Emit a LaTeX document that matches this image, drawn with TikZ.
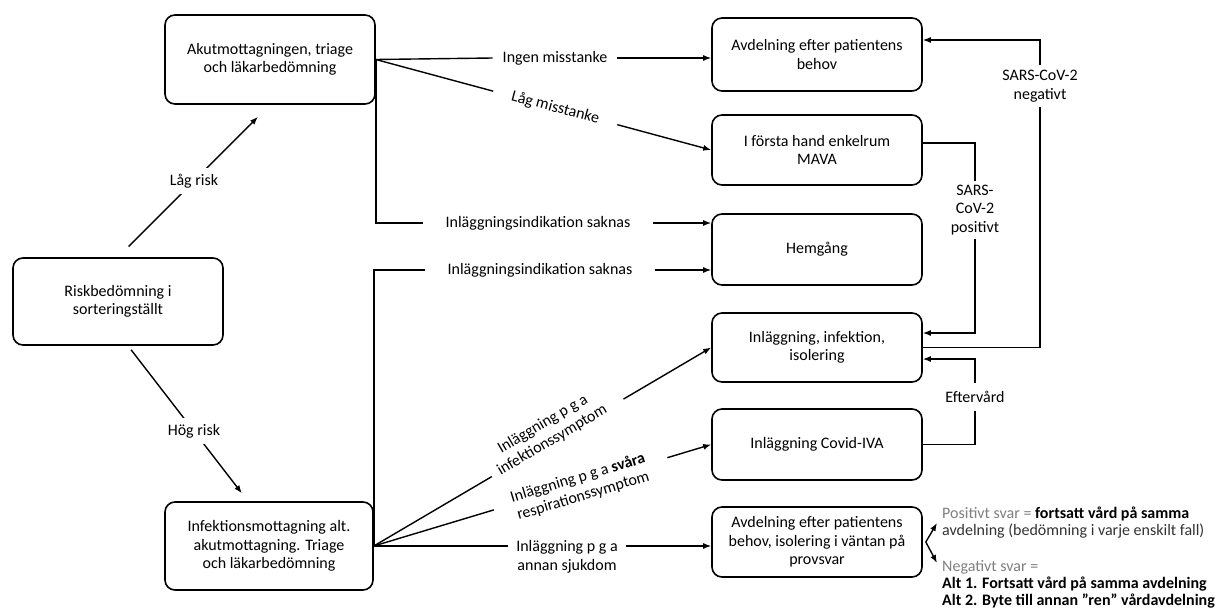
\documentclass[tikz,border=0pt]{standalone}
\usepackage{fontspec}
\setmainfont{Carlito}
\usetikzlibrary{arrows.meta,calc}
\begin{document}
\begin{tikzpicture}[x=1pt,y=-1pt,
  box/.style={draw, line width=1.6pt, rounded corners=10pt, align=center,
    font=\fontsize{16}{18.5}\selectfont, inner sep=2pt, minimum width=210pt},
  lab/.style={font=\fontsize{16}{18.5}\selectfont, align=center, inner sep=2pt},
  rtext/.style={font=\fontsize{16}{17}\selectfont, align=left, inner sep=0pt, anchor=west},
  con/.style={line width=1.4pt},
  arr/.style={line width=1.4pt, -{Latex[length=8pt,width=6pt]}},
]
\useasboundingbox (0,0) rectangle (1223,610);
\fill[white] (0,0) rectangle (1223,610);

% boxes
\node[box, minimum height=89pt] (A) at (270,59.5) {Akutmottagningen, triage\\och läkarbedömning};
\node[box, minimum height=87pt] (R) at (118,301.5) {Riskbedömning i\\sorteringställt};
\node[box, minimum width=208pt, minimum height=88pt] (I) at (269,546) {Infektionsmottagning alt.\\akutmottagning. Triage\\och läkarbedömning};
\node[box, minimum height=73pt] (B1) at (817,54.5) {Avdelning efter patientens\\behov};
\node[box, minimum height=70pt] (B2) at (817,150) {I första hand enkelrum\\MAVA};
\node[box, minimum height=71pt] (B3) at (817,249.5) {Hemgång};
\node[box, minimum height=69pt] (B4) at (817,347.5) {Inläggning, infektion,\\isolering};
\node[box, minimum height=71pt] (B5) at (817,444.5) {Inläggning Covid-IVA};
\node[box, minimum height=70pt] (B6) at (817,542) {Avdelning efter patientens\\behov, isolering i väntan på\\provsvar};

% risk arrows
\draw[arr, shorten <=15pt, shorten >=17pt] (R.north) -- (A.south)
  node[lab, fill=white, pos=0.5, inner sep=6pt] {Låg risk};
\draw[arr, shorten <=5pt, shorten >=10pt] ([xshift=10pt]R.south) -- ([xshift=-21pt]I.north)
  node[lab, fill=white, pos=0.55, inner sep=6pt] {Hög risk};

% from A
\node[lab, inner xsep=10pt] (l1) at (555,58) {Ingen misstanke};
\draw[con] (A.east) -- (l1.west);
\draw[arr] (l1.east) -- (B1.west |- l1.east);

\draw[con] (A.east) -- ($(A.east)!0.35!(B2.west)$);
\draw[arr] ($(A.east)!0.72!(B2.west)$) -- (B2.west);
\path (A.east) -- (B2.west) node[lab, sloped, pos=0.535] {Låg misstanke};

\node[lab, inner xsep=22pt] (l3) at (538,223) {Inläggningsindikation saknas};
\draw[con] (A.east) |- (l3.west);
\draw[arr] (l3.east) -- (B3.west |- l3.east);

% from I
\node[lab, inner xsep=22pt] (l4) at (540,270) {Inläggningsindikation saknas};
\draw[con] (I.east) |- (l4.west);
\draw[arr] (l4.east) -- (B3.west |- l4.east);

\draw[con] (I.east) -- ($(I.east)!0.35!(B4.west)$);
\draw[arr] ($(I.east)!0.74!(B4.west)$) -- (B4.west);
\path (I.east) -- (B4.west) node[lab, sloped, pos=0.53, yshift=10pt] {Inläggning p g a\\infektionssymptom};

\draw[con] (I.east) -- ($(I.east)!0.356!(B5.west)$);
\draw[arr] ($(I.east)!0.87!(B5.west)$) -- (B5.west);
\path (I.east) -- (B5.west) node[lab, sloped, pos=0.61, yshift=-3pt] {Inläggning p g a \textbf{svåra}\\respirationssymptom};

\node[lab, inner xsep=8pt] (l7) at (567,557) {Inläggning p g a\\annan sjukdom};
\draw[con] (I.east) -- (I.east -| l7.west);
\draw[arr] (I.east -| l7.east) -- (B6.west |- I.east);

% right side loops
\node[lab, inner ysep=5pt] (lN) at (1040,86) {SARS-CoV-2\\negativt};
\draw[con] (B4.east) -| (lN.south);
\draw[arr] (lN.north) |- ([yshift=14.5pt]B1.east);

\node[lab, inner ysep=4pt] (lP) at (975,210) {SARS-\\CoV-2\\positivt};
\draw[con] ([yshift=7pt]B2.east) -| (lP.north);
\draw[arr] (lP.south) |- ([yshift=14.5pt]B4.east);

\node[lab, inner ysep=8pt] (lE) at (975,397) {Eftervård};
\draw[con] (B5.east) -| (lE.south);
\draw[arr] (lE.north) |- ([yshift=-11.5pt]B4.east);

% result branches
\coordinate (pu) at (937,523);
\coordinate (pd) at (937,563);
\draw[arr] ([xshift=3pt]B6.east) -- (pu);
\draw[arr] ([xshift=3pt]B6.east) -- (pd);

\node[rtext] (posT) at (942,523) {\textcolor{gray}{Positivt svar =} \textbf{fortsatt vård på samma}\\\textcolor{black!80}{avdelning (bedömning i varje enskilt fall)}};
\node[rtext] (negT) at (942,584) {\textcolor{gray}{Negativt svar =}\\\textbf{Alt 1. Fortsatt vård på samma avdelning}\\\textbf{Alt 2. Byte till annan "ren" vårdavdelning}};
\end{tikzpicture}
\end{document}
